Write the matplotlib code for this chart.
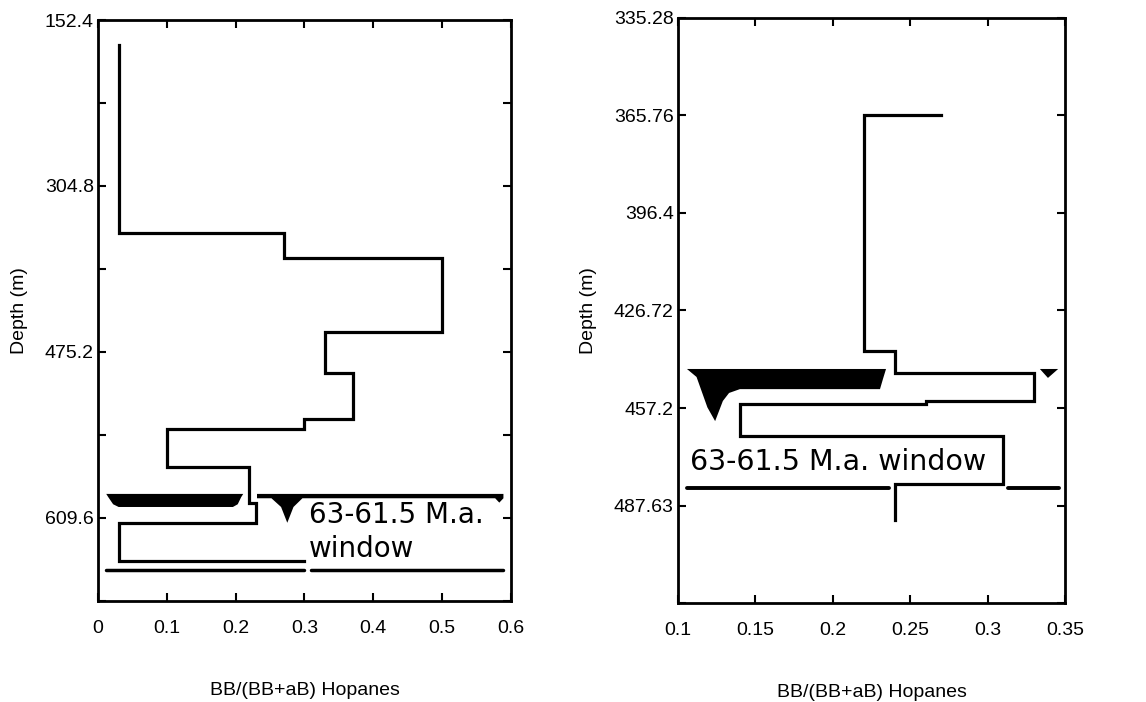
import matplotlib.pyplot as plt
from matplotlib.patches import Polygon

plt.rcParams['font.family'] = ['Liberation Sans', 'DejaVu Sans']
plt.rcParams['font.size'] = 14

# Well A: hopane ratio, one value per depth interval (top of interval in m)
a_ratio = [0.03, 0.27, 0.50, 0.33, 0.37, 0.30, 0.10, 0.22, 0.23, 0.03, 0.30]
a_top = [175.4, 348.0, 371.0, 439.0, 476.5, 518.7, 528.0, 562.7, 595.8, 614.0, 649.0]
a_bottom = 649.0
a_xticks = [0, 0.1, 0.2, 0.3, 0.4, 0.5, 0.6]
a_xlabels = ['0', '0.1', '0.2', '0.3', '0.4', '0.5', '0.6']
a_yticks = [152.4, 228.6, 304.8, 381.0, 457.2, 533.4, 609.6, 685.8]
a_ylabels = ['152.4', '', '304.8', '', '475.2', '', '609.6', '']
a_window = (587.5, 657.3)

# Well B
b_ratio = [0.27, 0.22, 0.24, 0.33, 0.26, 0.14, 0.31, 0.24]
b_top = [365.76, 365.76, 439.4, 446.3, 455.0, 456.0, 466.0, 481.0]
b_bottom = 492.2
b_xticks = [0.1, 0.15, 0.2, 0.25, 0.3, 0.35]
b_xlabels = ['0.1', '0.15', '0.2', '0.25', '0.3', '0.35']
b_yticks = [335.28, 365.76, 396.24, 426.72, 457.2, 487.68, 518.16]
b_ylabels = ['335.28', '365.76', '396.4', '426.72', '457.2', '487.63', '']
b_window = (445.0, 482.2)

window_text = '63-61.5 M.a.'


def step_xy(ratio, top, bottom):
    bases = top[1:] + [bottom]
    xs, ys = [], []
    for v, t, b in zip(ratio, top, bases):
        xs += [v, v]
        ys += [t, b]
    return xs, ys


def style_axes(ax, xticks, xlabels, yticks, ylabels):
    ax.set_xlim(xticks[0], xticks[-1])
    ax.set_ylim(yticks[-1], yticks[0])
    ax.set_xticks(xticks)
    ax.set_xticklabels(xlabels)
    ax.set_yticks(yticks)
    ax.set_yticklabels(ylabels)
    ax.tick_params(direction='in', top=True, right=True, length=6, width=1.5)
    ax.tick_params(axis='x', pad=14)
    ax.tick_params(axis='y', pad=3)
    for s in ax.spines.values():
        s.set_linewidth(2)
    ax.set_xlabel('BB/(BB+aB) Hopanes', labelpad=32)
    ax.set_ylabel('Depth (m)', labelpad=12)


fig = plt.figure(figsize=(11.46, 7.02), dpi=100)
ax1 = fig.add_axes([0.0855, 0.1439, 0.3604, 0.8276])
ax2 = fig.add_axes([0.5916, 0.1410, 0.3377, 0.8334])

# --- well A ---
xs, ys = step_xy(a_ratio, a_top, a_bottom)
ax1.plot(xs, ys, color='black', lw=2.3, solid_joinstyle='miter', zorder=3)

top, base = a_window
ax1.add_patch(Polygon([(0.012, top), (0.211, top), (0.208, top + 3), (0.203, top + 9.5),
                       (0.196, top + 12), (0.030, top + 12), (0.022, top + 9.5),
                       (0.015, top + 3)], color='black', lw=0))
ax1.add_patch(Polygon([(0.231, top), (0.589, top), (0.589, top + 4), (0.583, top + 8),
                       (0.577, top + 4), (0.297, top + 4), (0.284, top + 12),
                       (0.275, top + 26.5), (0.266, top + 12), (0.252, top + 4),
                       (0.231, top + 4)], color='black', lw=0))
ax1.plot([0.012, 0.300], [base, base], color='black', lw=2.5, solid_capstyle='round')
ax1.plot([0.310, 0.589], [base, base], color='black', lw=2.5, solid_capstyle='round')
# baseline of the lower line ("window")
ax1.text(0.307, 645.0, window_text + '\nwindow', family='DejaVu Sans', fontsize=20,
         va='baseline', ha='left', linespacing=1.25)
style_axes(ax1, a_xticks, a_xlabels, a_yticks, a_ylabels)

# --- well B ---
xs, ys = step_xy(b_ratio, b_top, b_bottom)
ax2.plot(xs, ys, color='black', lw=2.3, solid_joinstyle='miter', zorder=3)

top, base = b_window
ax2.add_patch(Polygon([(0.1058, top), (0.2344, top), (0.2325, top + 3), (0.2305, top + 6.3),
                       (0.140, top + 6.3), (0.133, top + 7.5), (0.129, top + 10),
                       (0.124, top + 16.3), (0.119, top + 12), (0.112, top + 2.5)],
                      color='black', lw=0))
ax2.add_patch(Polygon([(0.3338, top), (0.3456, top), (0.339, top + 2.8)],
                      color='black', lw=0))
ax2.plot([0.106, 0.236], [base, base], color='black', lw=2.8, solid_capstyle='round')
ax2.plot([0.313, 0.346], [base, base], color='black', lw=2.8, solid_capstyle='round')
ax2.text(0.108, 474.1, window_text + ' window', family='DejaVu Sans', fontsize=20.5,
         va='center', ha='left')
style_axes(ax2, b_xticks, b_xlabels, b_yticks, b_ylabels)

fig.savefig('out.png', dpi=100)
